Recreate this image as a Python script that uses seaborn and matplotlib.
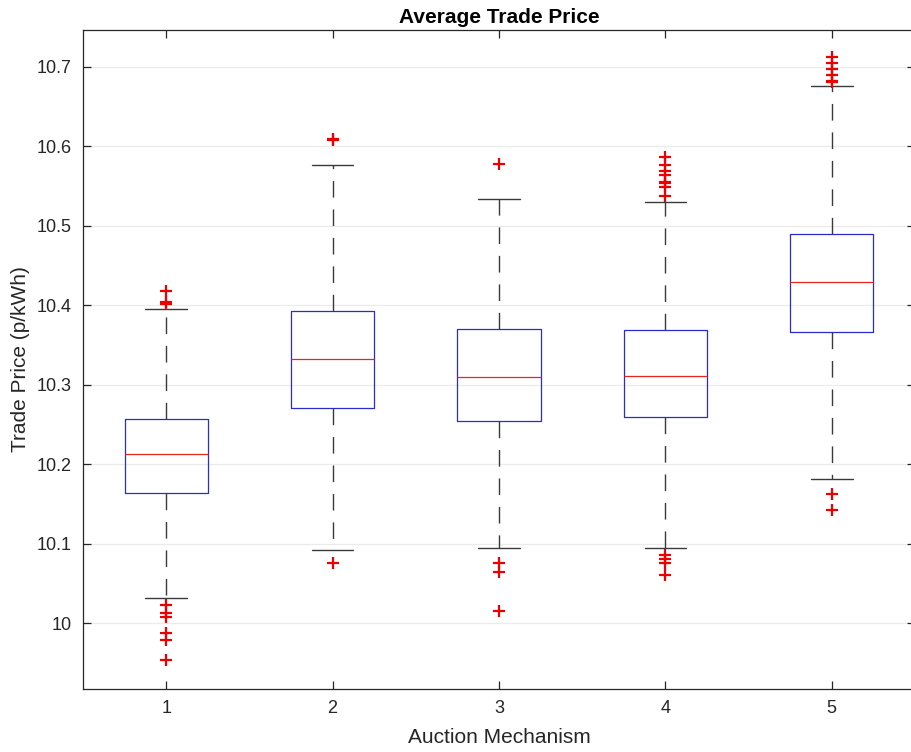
import matplotlib
matplotlib.use("Agg")
import matplotlib.pyplot as plt
import numpy as np
import pandas as pd
import seaborn as sns

# Auction mechanisms on the x axis
mechanisms = ["1", "2", "3", "4", "5"]

# Five-number summaries per mechanism (p/kWh): lower whisker, Q1, median, Q3, upper whisker
whisker_low = [10.031, 10.092, 10.095, 10.095, 10.181]
q1 = [10.164, 10.270, 10.254, 10.259, 10.366]
median = [10.213, 10.332, 10.310, 10.311, 10.429]
q3 = [10.257, 10.392, 10.370, 10.368, 10.490]
whisker_high = [10.395, 10.576, 10.533, 10.530, 10.675]

# Outlying trade prices per mechanism
outliers = {
    "1": [10.418, 10.404, 10.401, 10.023, 10.013, 10.007, 9.988, 9.979, 9.954],
    "2": [10.609, 10.607, 10.075],
    "3": [10.577, 10.075, 10.064, 10.015],
    "4": [10.586, 10.576, 10.569, 10.563, 10.555, 10.553, 10.548, 10.537,
          10.086, 10.080, 10.075, 10.060],
    "5": [10.712, 10.704, 10.697, 10.689, 10.682, 10.680, 10.162, 10.142],
}

rows = []
for i, m in enumerate(mechanisms):
    for v in (whisker_low[i], q1[i], median[i], q3[i], whisker_high[i]):
        rows.append({"Auction Mechanism": m, "price": v})
box_df = pd.DataFrame(rows)

out_df = pd.DataFrame(
    [{"Auction Mechanism": m, "price": v} for m in mechanisms for v in outliers[m]]
)

sns.set_theme(style="white")
plt.rcParams["font.family"] = ["Liberation Sans", "DejaVu Sans"]

axis_gray = "#262626"
fig = plt.figure(figsize=(9.11, 7.52), dpi=100)
ax = fig.add_axes([83 / 911, 63 / 752, 832 / 911, 659 / 752])

sns.boxplot(
    data=box_df, x="Auction Mechanism", y="price", order=mechanisms,
    whis=(0, 100), width=0.5, fill=False, showfliers=False, ax=ax,
    boxprops=dict(color="#2b2bd0", linewidth=0.9),
    whiskerprops=dict(color="#3a3a3a", linewidth=1.0, linestyle=(0, (12, 8.5))),
    capprops=dict(color="#3a3a3a", linewidth=1.0),
    medianprops=dict(color="#e8261c", linewidth=0.9),
)

sns.stripplot(
    data=out_df, x="Auction Mechanism", y="price", order=mechanisms,
    jitter=False, marker="+", color="#ee0000", size=9, linewidth=1.6, ax=ax,
)

ax.set_xlim(-0.5, 4.5)
ax.set_ylim(9.917, 10.746)
ax.set_yticks([10.0, 10.1, 10.2, 10.3, 10.4, 10.5, 10.6, 10.7])
ax.set_yticklabels(["10", "10.1", "10.2", "10.3", "10.4", "10.5", "10.6", "10.7"])

ax.yaxis.grid(True, color="#ebebeb", linewidth=0.9)
ax.xaxis.grid(False)
ax.set_axisbelow(True)

for s in ax.spines.values():
    s.set_color(axis_gray)
    s.set_linewidth(0.9)
    s.set_visible(True)
ax.spines["right"].set_visible(False)

ax.tick_params(axis="both", which="major", direction="in", length=6, width=0.9,
               color=axis_gray, labelcolor=axis_gray, labelsize=13,
               top=True, right=True, bottom=True, left=True, pad=8)

ax.set_xlabel("Auction Mechanism", fontsize=15, color=axis_gray, labelpad=8)
ax.set_ylabel("Trade Price (p/kWh)", fontsize=15, color=axis_gray, labelpad=5)
ax.set_title("Average Trade Price", fontsize=15, fontweight="bold", color="black", pad=5)

fig.savefig("out.png", dpi=100)
